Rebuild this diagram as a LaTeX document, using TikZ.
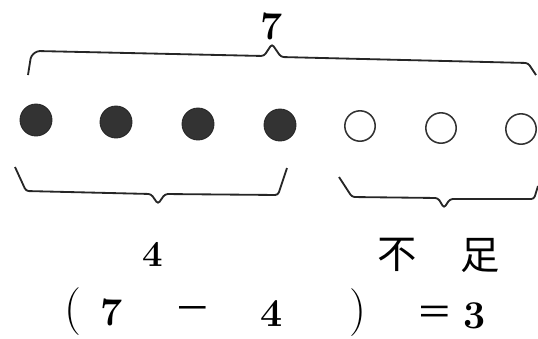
\documentclass[tikz,border=0pt]{standalone}
\usepackage{fontspec}
\newfontfamily\cjkfont{Noto Sans CJK SC}
\usetikzlibrary{positioning}

\begin{document}
\begin{tikzpicture}[
  x=0.025cm, y=-0.025cm,
  every node/.style={font=\fontsize{26}{30}\selectfont, inner sep=0pt},
  dotfull/.style={circle, draw=black!85, fill=black!80, minimum size=0.8cm, line width=0.6pt},
  dotopen/.style={circle, draw=black!80, fill=white, minimum size=0.76cm, line width=1.1pt},
  brk/.style={draw=black!85, line width=1.3pt, rounded corners=2pt},
  eq/.style={font=\fontsize{28}{32}\selectfont\bfseries},
  op/.style={font=\fontsize{34}{38}\selectfont},
  sym/.style={font=\fontsize{26}{30}\selectfont\cjkfont}
]
  \useasboundingbox (0,0) rectangle (538,338);

  % dots: four counted, three missing
  \foreach \i/\x/\y in {1/36/120, 2/116/122, 3/198/124, 4/280/125}
    \node[dotfull] (d\i) at (\x,\y) {};
  \foreach \i/\x/\y in {5/360/126, 6/441/128, 7/521/129}
    \node[dotopen] (d\i) at (\x,\y) {};

  % top brace (whole)
  \draw[brk] (28,75) -- (31,56) -- (37,51) -- (264,56) -- (272,44)
             -- (281,57) -- (528,63) -- (536,75);
  \node[font=\fontsize{28}{32}\selectfont\bfseries] (total) at (272,26) {7};

  % bottom braces
  \draw[brk] (15,167) -- (26,191) -- (151,194) -- (158,204)
             -- (165,194) -- (278,195) -- (287,168);
  \draw[brk] (339,177) -- (352,197) -- (438,198) -- (444,208)
             -- (450,199) -- (534,199) -- (538,186);

  \node[font=\fontsize{26}{30}\selectfont\bfseries] (have) at (153,254) {4};
  \node[font=\fontsize{28}{32}\selectfont\cjkfont] (bu) at (397,255) {不};
  \node[font=\fontsize{28}{32}\selectfont\cjkfont] (zu) at (480,255) {足};

  % equation
  \node[op] (lp)    at (73,312)  {(};
  \node[eq] (a)     at (112,312) {7};
  \node[sym] (minus) at (193,314) {－};
  \node[eq] (b)     at (272,314) {4};
  \node[op] (rp)    at (358,313) {)};
  \node[sym] (equal) at (435,316) {＝};
  \node[eq] (res)   at (475,316) {3};
\end{tikzpicture}
\end{document}
